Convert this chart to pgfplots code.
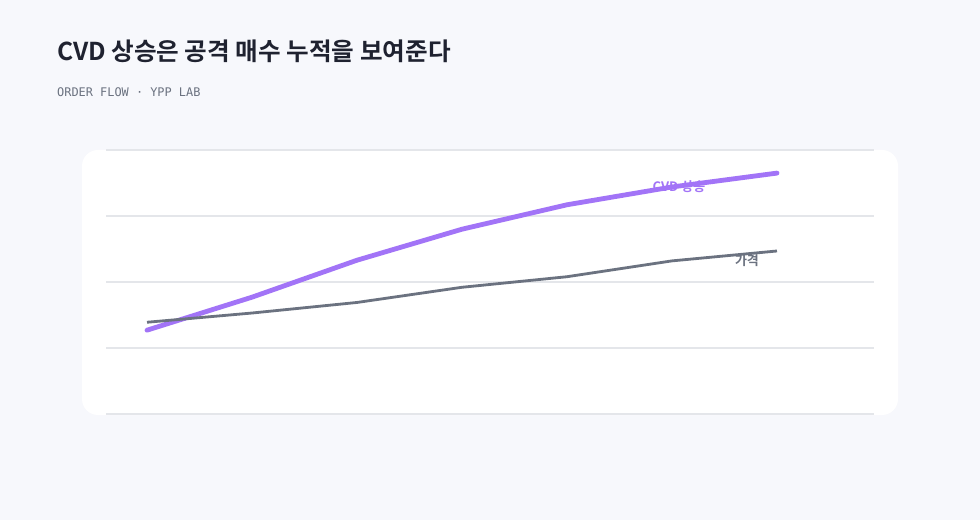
\documentclass[border=0pt]{standalone}
\usepackage{fontspec}
\usepackage{pgfplots}
\pgfplotsset{compat=1.18}
\setmainfont{Noto Sans CJK KR}
\newfontfamily\krbold{Noto Sans CJK KR Bold}
\newfontfamily\monofont{DejaVu Sans Mono}
\definecolor{bgc}{HTML}{F7F8FC}
\definecolor{gridc}{HTML}{E4E6EA}
\definecolor{cvd}{HTML}{A274F7}
\definecolor{price}{HTML}{6B7280}
\definecolor{titlec}{HTML}{1F2230}
\pgfplotstableread{
x cvd price
0 1.27 1.39
1 1.77 1.53
2 2.33 1.69
3 2.80 1.92
4 3.17 2.08
5 3.44 2.32
6 3.65 2.47
}\datatable
\begin{document}
\begin{tikzpicture}[x=1pt,y=1pt]
\fill[bgc] (0,0) rectangle (980,520);
\fill[white, rounded corners=16pt] (82,105) rectangle (898,370);
\node[anchor=base west, inner sep=0pt, text=titlec, font=\krbold\fontsize{24.6}{28}\selectfont] at (57,459) {CVD 상승은 공격 매수 누적을 보여준다};
\node[anchor=base west, inner sep=0pt, text=price, font=\monofont\fontsize{11.9}{14}\selectfont] at (57,423) {ORDER FLOW · YPP LAB};
\begin{axis}[
  at={(106pt,106pt)}, anchor=south west,
  scale only axis, width=768pt, height=264pt,
  xmin=-0.3905, xmax=6.924, ymin=0, ymax=4,
  ytick={0,1,2,3,4}, xtick=\empty, yticklabels={},
  ymajorgrids, grid style={gridc, line width=1.1pt},
  axis line style={draw=none}, major tick length=0pt,
  clip=false,
]
\addplot[cvd, line width=4.8pt, line cap=round, line join=round] table[x=x, y=cvd] {\datatable};
\addplot[price, line width=2.8pt, line join=round] table[x=x, y=price] {\datatable};
\node[text=cvd, font=\krbold\fontsize{13}{15}\selectfont] at (axis cs:5.067,3.45) {CVD 상승};
\node[text=price, font=\krbold\fontsize{13}{15}\selectfont] at (axis cs:5.714,2.33) {가격};
\end{axis}
\end{tikzpicture}
\end{document}
